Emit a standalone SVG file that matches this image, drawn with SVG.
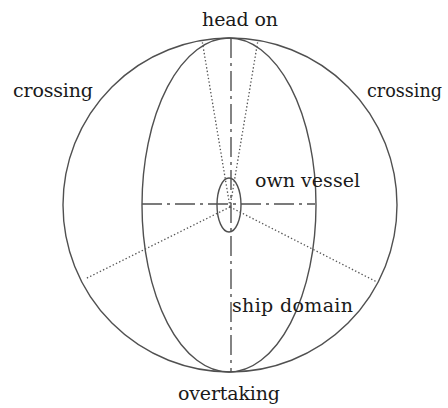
<svg xmlns="http://www.w3.org/2000/svg" width="448" height="408" viewBox="0 0 448 408">
<style>
.ln{fill:none;stroke:#505050;stroke-width:1.4}
.dd{fill:none;stroke:#505050;stroke-width:1.4;stroke-dasharray:20 5 3 5}
.dt{fill:none;stroke:#555;stroke-width:1.3;stroke-dasharray:1.4 2.2}
.lb{font-family:"DejaVu Serif","Liberation Serif",serif;font-size:19px;fill:#1a1a1a}
</style>
<rect width="448" height="408" fill="#fff"/>
<g id="outer-circle"><circle class="ln" cx="230" cy="205" r="167"/></g>
<g id="ship-domain"><ellipse class="ln" cx="229" cy="205" rx="87" ry="167"/></g>
<g id="axes">
<line class="dd" x1="231" y1="38" x2="231" y2="372"/>
<line class="dd" x1="142" y1="204" x2="315" y2="204"/>
</g>
<g id="own-vessel"><ellipse class="ln" cx="229" cy="205" rx="12" ry="27" fill="#fff"/></g>
<g id="sector-lines">
<line class="dt" x1="230" y1="207" x2="202" y2="40"/>
<line class="dt" x1="230" y1="207" x2="258" y2="40"/>
<line class="dt" x1="230" y1="207" x2="85" y2="279"/>
<line class="dt" x1="230" y1="207" x2="377" y2="282"/>
</g>
<g id="labels">
<text class="lb" x="202" y="26" textLength="76" lengthAdjust="spacing">head on</text>
<text class="lb" x="13" y="97" textLength="80" lengthAdjust="spacing">crossing</text>
<text class="lb" x="367" y="97" textLength="75" lengthAdjust="spacingAndGlyphs">crossing</text>
<text class="lb" x="255" y="187" textLength="105" lengthAdjust="spacing">own vessel</text>
<text class="lb" x="232" y="312" textLength="121" lengthAdjust="spacing">ship domain</text>
<text class="lb" x="178" y="400" textLength="102" lengthAdjust="spacing">overtaking</text>
</g>
</svg>
